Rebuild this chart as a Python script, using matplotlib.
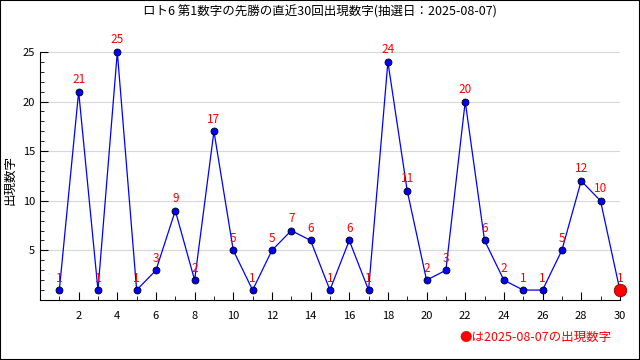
import matplotlib
matplotlib.use("Agg")
import matplotlib.pyplot as plt
from matplotlib.patches import Rectangle
from matplotlib.ticker import MultipleLocator

plt.rcParams["font.family"] = ["Noto Sans CJK JP", "DejaVu Sans"]

draws = list(range(1, 31))
values = [1, 21, 1, 25, 1, 3, 9, 2, 17, 5, 1, 5, 7, 6, 1, 6, 1, 24, 11, 2,
          3, 20, 6, 2, 1, 1, 5, 12, 10, 1]
title = "ロト6 第1数字の先勝の直近30回出現数字(抽選日：2025-08-07)"
note = "●は2025-08-07の出現数字"

fig = plt.figure(figsize=(6.4, 3.6), dpi=100)
ax = fig.add_axes([0.0625, 0.1667, 0.906, 0.689])

ax.plot(draws, values, color="blue", linewidth=0.9, marker="o", markersize=5,
        markerfacecolor="blue", markeredgecolor="black", markeredgewidth=0.6,
        zorder=3, clip_on=False)
ax.plot(draws[-1], values[-1], marker="o", markersize=9, color="red",
        markeredgecolor="darkred", markeredgewidth=0.6, zorder=4, clip_on=False)

for x, v in zip(draws, values):
    ax.annotate(str(v), (x, v), xytext=(0, 4), textcoords="offset points",
                ha="center", va="bottom", color="red", fontsize=8.5,
                zorder=5, annotation_clip=False)

ax.set_xlim(0, 30)
ax.set_ylim(0, 25)
ax.xaxis.set_minor_locator(MultipleLocator(1))
ax.yaxis.set_minor_locator(MultipleLocator(1))
ax.set_xticks(range(2, 31, 2))
ax.set_yticks(range(5, 26, 5))
ax.tick_params(which="both", direction="in", labelsize=8)
ax.tick_params(which="major", length=6)
ax.tick_params(which="minor", length=3)
ax.tick_params(axis="x", pad=8)
ax.grid(axis="y", color="#d8d8d8", linewidth=0.8)
ax.set_axisbelow(True)
for s in ("top", "right"):
    ax.spines[s].set_visible(False)

fig.text(0.016, 0.5, "出現数字", rotation=90, fontsize=9, ha="center", va="center")
fig.text(0.5, 0.967, title, fontsize=9, ha="center", va="center")
fig.text(0.955, 0.062, note, color="red", fontsize=9, ha="right", va="center")

fig.add_artist(Rectangle((0, 0), 1, 1, transform=fig.transFigure, fill=False,
                         edgecolor="black", linewidth=1.5))

fig.savefig("out.png", dpi=100)
